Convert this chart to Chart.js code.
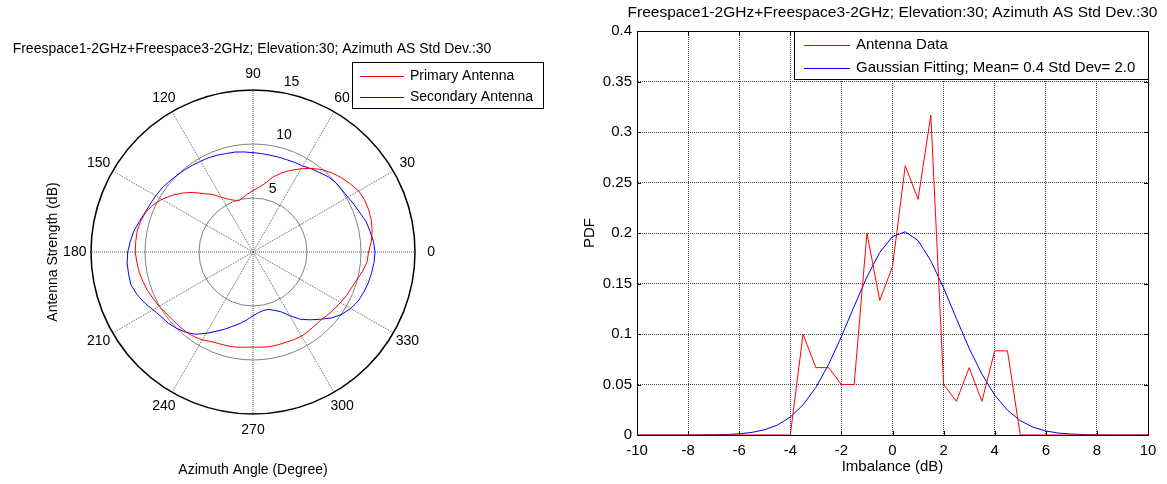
<!DOCTYPE html>
<html>
<head>
<meta charset="utf-8">
<script src="https://cdn.jsdelivr.net/npm/chart.js@4"></script>
<style>
  html, body { margin: 0; padding: 0; background: #fff; }
  #wrap { position: relative; width: 1167px; height: 484px; overflow: hidden; }
  #polarBox { position: absolute; left: 0; top: 0; width: 580px; height: 484px; }
  #pdfBox { position: absolute; left: 580px; top: 0; width: 587px; height: 484px; }
</style>
</head>
<body>
<div id="wrap">
  <div id="polarBox"><canvas id="polarChart" width="580" height="484"></canvas></div>
  <div id="pdfBox"><canvas id="pdfChart" width="587" height="484"></canvas></div>
</div>
<script>
// ---- polar plot data (azimuth in degrees, strength in dB) ----
const azimuthDeg = [
  0, 5, 10, 15, 20, 25, 30, 35, 40, 45, 50, 55, 60, 65, 70, 75, 80, 85,
  90, 95, 100, 105, 110, 115, 120, 125, 130, 135, 140, 145, 150, 155, 160, 165, 170, 175,
  180, 185, 190, 195, 200, 205, 210, 215, 220, 225, 230, 235, 240, 245, 250, 255, 260, 265,
  270, 275, 280, 285, 290, 295, 300, 305, 310, 315, 320, 325, 330, 335, 340, 345, 350, 355
];
const primaryAntenna = [
  10.7, 11.0, 11.2, 11.35, 11.4, 11.4, 11.3, 11.0, 10.7, 10.35,
  9.95, 9.45, 8.9, 8.35, 7.8, 7.2, 6.45, 6.0, 5.7, 5.4,
  5.15, 4.95, 5.1, 5.4, 5.85, 6.5, 7.05, 7.8, 8.5, 9.15,
  9.75, 10.25, 10.6, 10.8, 10.9, 10.9, 10.9, 10.8, 10.7, 10.55,
  10.4, 10.2, 10.05, 9.85, 9.75, 9.7, 9.65, 9.55, 9.4, 9.15,
  9.05, 9.0, 8.95, 8.85, 8.8, 8.85, 8.9, 8.9, 8.9, 8.95,
  9.0, 8.95, 8.9, 8.9, 9.05, 9.2, 9.35, 9.55, 9.7, 9.95,
  10.3, 10.6
];
const secondaryAntenna = [
  11.3, 11.2, 11.0, 10.85, 10.55, 10.35, 10.15, 10.05, 10.0, 9.85,
  9.6, 9.4, 9.2, 9.15, 9.1, 9.1, 9.1, 9.15, 9.2, 9.3,
  9.4, 9.45, 9.55, 9.65, 9.7, 9.8, 9.9, 10.0, 10.15, 10.3,
  10.4, 10.5, 10.65, 10.9, 11.2, 11.4, 11.6, 11.7, 11.7, 11.7,
  11.45, 11.1, 10.7, 10.4, 10.25, 10.0, 9.7, 9.3, 8.7, 8.1,
  7.6, 7.1, 6.7, 6.3, 5.9, 5.65, 5.5, 5.5, 5.75, 6.1,
  6.8, 7.6, 8.2, 8.8, 9.5, 10.05, 10.45, 10.75, 10.9, 11.05,
  11.15, 11.25
];
const angleTicks = [0, 30, 60, 90, 120, 150, 180, 210, 240, 270, 300, 330];
const radialTicks = [5, 10, 15];

// ---- PDF plot data ----
const imbalanceDb = [
  -10, -9.5, -9, -8.5, -8, -7.5, -7, -6.5, -6, -5.5, -5, -4.5, -4, -3.5, -3, -2.5, -2, -1.5, -1, -0.5,
  0, 0.5, 1, 1.5, 2, 2.5, 3, 3.5, 4, 4.5, 5, 5.5, 6, 6.5, 7, 7.5, 8, 8.5, 9, 9.5, 10
];
const antennaPdf = [
  0, 0, 0, 0, 0, 0, 0, 0, 0, 0, 0, 0, 0, 0.1, 0.0667, 0.0667, 0.05, 0.05, 0.2, 0.1333,
  0.1667, 0.2667, 0.2333, 0.3167, 0.05, 0.0333, 0.0667, 0.0333, 0.0833, 0.0833, 0, 0, 0, 0, 0, 0, 0, 0, 0, 0, 0
];
const gaussianPdf = [
  0, 0, 0, 0, 0, 0.0001, 0.0002, 0.0005, 0.0012, 0.0026, 0.0052, 0.0099, 0.0178, 0.0299, 0.0471, 0.0699, 0.0974, 0.1274, 0.1565, 0.1807,
  0.1965, 0.2012, 0.1925, 0.1725, 0.1455, 0.1153, 0.0859, 0.0602, 0.0396, 0.0245, 0.0142, 0.0077, 0.004, 0.0019, 0.0009, 0.0004, 0.0001, 0, 0, 0, 0
];
const yTicks = [0, 0.05, 0.1, 0.15, 0.2, 0.25, 0.3, 0.35, 0.4];
const xTicks = [-10, -8, -6, -4, -2, 0, 2, 4, 6, 8, 10];

const titleText = 'Freespace1-2GHz+Freespace3-2GHz; Elevation:30; Azimuth AS Std Dev.:30';
const FONT = '"Liberation Sans", Arial, Helvetica, sans-serif';
Chart.defaults.font.family = FONT;
Chart.defaults.color = '#000';

// radar goes clockwise, matlab polar goes counter-clockwise
const ccw = arr => arr.map((_, i) => arr[(arr.length - i) % arr.length]);

function drawLegend(ctx, chart, box) {
  ctx.fillStyle = '#fff';
  ctx.fillRect(box.x, box.y, box.w, box.h);
  ctx.strokeStyle = '#000';
  ctx.lineWidth = 1;
  ctx.strokeRect(box.x + 0.5, box.y + 0.5, box.w, box.h);
  ctx.font = box.font;
  ctx.textAlign = 'left';
  ctx.textBaseline = 'middle';
  chart.data.datasets.forEach((ds, i) => {
    const y = box.rows[i];
    ctx.strokeStyle = ds.borderColor;
    ctx.beginPath();
    ctx.moveTo(box.lineX0, y + 0.5);
    ctx.lineTo(box.lineX1, y + 0.5);
    ctx.stroke();
    ctx.fillStyle = '#000';
    ctx.fillText(ds.label, box.textX, y);
  });
}

const polarText = {
  id: 'polarText',
  afterDraw(chart) {
    const { ctx } = chart;
    const r = chart.scales.r;
    const labels = chart.data.labels;
    ctx.save();
    ctx.fillStyle = '#000';
    ctx.font = '14px ' + FONT;
    ctx.textAlign = 'center';
    ctx.textBaseline = 'middle';
    const labelDist = r.getDistanceFromCenterForValue(r.max * 1.1);
    labels.forEach((deg, i) => {
      if (angleTicks.includes(deg)) {
        const p = r.getPointPosition(i, labelDist);
        ctx.fillText(String(deg), p.x, p.y);
      }
    });
    // ring labels along the 82 degree direction, like matlab
    const i80 = labels.indexOf(80);
    ctx.textAlign = 'left';
    ctx.textBaseline = 'bottom';
    radialTicks.forEach(v => {
      const p = r.getPointPosition(i80, r.getDistanceFromCenterForValue(v + 0.25), -2 * Math.PI / 180);
      ctx.fillText('  ' + v, p.x, p.y);
    });
    ctx.textAlign = 'center';
    ctx.textBaseline = 'middle';
    ctx.fillText(titleText, r.xCenter - 1, 49);
    ctx.fillText('Azimuth Angle (Degree)', r.xCenter, 470);
    ctx.save();
    ctx.translate(53, r.yCenter);
    ctx.rotate(-Math.PI / 2);
    ctx.fillText('Antenna Strength (dB)', 0, 0);
    ctx.restore();
    drawLegend(ctx, chart, {
      x: 352, y: 62, w: 191, h: 46, rows: [76, 97],
      lineX0: 360, lineX1: 404, textX: 410, font: '14px ' + FONT
    });
    ctx.restore();
  }
};

new Chart(document.getElementById('polarChart'), {
  type: 'radar',
  data: {
    labels: ccw(azimuthDeg),
    datasets: [
      { label: 'Primary Antenna', data: ccw(primaryAntenna), borderColor: '#ff0000', backgroundColor: 'rgba(0,0,0,0)', fill: false },
      { label: 'Secondary Antenna', data: ccw(secondaryAntenna), borderColor: '#0000ff', backgroundColor: 'rgba(0,0,0,0)', fill: false }
    ]
  },
  options: {
    responsive: false,
    animation: false,
    layout: { padding: { left: 91, top: 90, right: 165, bottom: 70 } },
    elements: { point: { radius: 0 }, line: { borderWidth: 1, tension: 0 } },
    plugins: { legend: { display: false }, tooltip: { enabled: false } },
    scales: {
      r: {
        min: 0,
        max: 15,
        startAngle: 90,
        ticks: { display: false, stepSize: 5 },
        pointLabels: { display: false },
        grid: {
          circular: true,
          color: c => (c.tick && c.tick.value === 15 ? '#000' : '#808080'),
          lineWidth: c => (c.tick && c.tick.value === 15 ? 1.5 : 1)
        },
        angleLines: {
          color: '#5a5a5a',
          lineWidth: c => (angleTicks.includes(c.chart.data.labels[c.index]) ? 1 : 0),
          borderDash: [1, 1]
        }
      }
    }
  },
  plugins: [polarText]
});

const pdfDecor = {
  id: 'pdfDecor',
  beforeDatasetsDraw(chart) {
    const { ctx, chartArea: a } = chart;
    const sx = chart.scales.x, sy = chart.scales.y;
    ctx.save();
    ctx.strokeStyle = '#000';
    ctx.lineWidth = 1;
    ctx.strokeRect(Math.round(a.left) + 0.5, Math.round(a.top) + 0.5, Math.round(a.right - a.left), Math.round(a.bottom - a.top));
    ctx.beginPath();
    xTicks.forEach(v => {
      const x = Math.round(sx.getPixelForValue(v)) + 0.5;
      ctx.moveTo(x, a.bottom); ctx.lineTo(x, a.bottom - 4);
      ctx.moveTo(x, a.top); ctx.lineTo(x, a.top + 4);
    });
    yTicks.forEach(v => {
      const y = Math.round(sy.getPixelForValue(v)) + 0.5;
      ctx.moveTo(a.left, y); ctx.lineTo(a.left + 4, y);
      ctx.moveTo(a.right, y); ctx.lineTo(a.right - 4, y);
    });
    ctx.stroke();
    ctx.restore();
  },
  afterDraw(chart) {
    const { ctx, chartArea: a } = chart;
    ctx.save();
    ctx.fillStyle = '#000';
    ctx.font = '15.5px ' + FONT;
    ctx.textAlign = 'center';
    ctx.textBaseline = 'middle';
    ctx.fillText(titleText, (a.left + a.right) / 2, 13);
    drawLegend(ctx, chart, {
      x: 214, y: 31, w: 354, h: 48, rows: [45, 68],
      lineX0: 224, lineX1: 270, textX: 276, font: '15px ' + FONT
    });
    ctx.restore();
  }
};

new Chart(document.getElementById('pdfChart'), {
  type: 'line',
  data: {
    datasets: [
      { label: 'Antenna Data', data: imbalanceDb.map((x, i) => ({ x, y: antennaPdf[i] })), borderColor: '#ff0000' },
      { label: 'Gaussian Fitting; Mean= 0.4 Std Dev= 2.0', data: imbalanceDb.map((x, i) => ({ x, y: gaussianPdf[i] })), borderColor: '#0000ff' }
    ]
  },
  options: {
    responsive: false,
    animation: false,
    layout: { padding: { left: 0, right: 19, top: 31, bottom: 0 } },
    elements: { point: { radius: 0 }, line: { borderWidth: 1, tension: 0 } },
    plugins: { legend: { display: false }, tooltip: { enabled: false } },
    scales: {
      x: {
        type: 'linear',
        min: -10,
        max: 10,
        afterBuildTicks: s => { s.ticks = xTicks.map(v => ({ value: v })); },
        ticks: { font: { size: 15 }, padding: 7, callback: v => String(v), maxRotation: 0 },
        grid: { color: '#444', drawTicks: false },
        border: { color: '#000', dash: [1, 1] },
        title: { display: true, text: 'Imbalance (dB)', font: { size: 15 }, padding: { top: 0, bottom: 8 } },
        afterFit: s => { s.height = 49; }
      },
      y: {
        min: 0,
        max: 0.4,
        afterBuildTicks: s => { s.ticks = yTicks.map(v => ({ value: v })); },
        ticks: { font: { size: 15 }, padding: 5, callback: v => String(v) },
        grid: { color: '#444', drawTicks: false },
        border: { color: '#000', dash: [1, 1] },
        title: { display: true, text: 'PDF', font: { size: 15 }, padding: { top: 1, bottom: 0 } },
        afterFit: s => { s.width = 57; }
      }
    }
  },
  plugins: [pdfDecor]
});
</script>
</body>
</html>
